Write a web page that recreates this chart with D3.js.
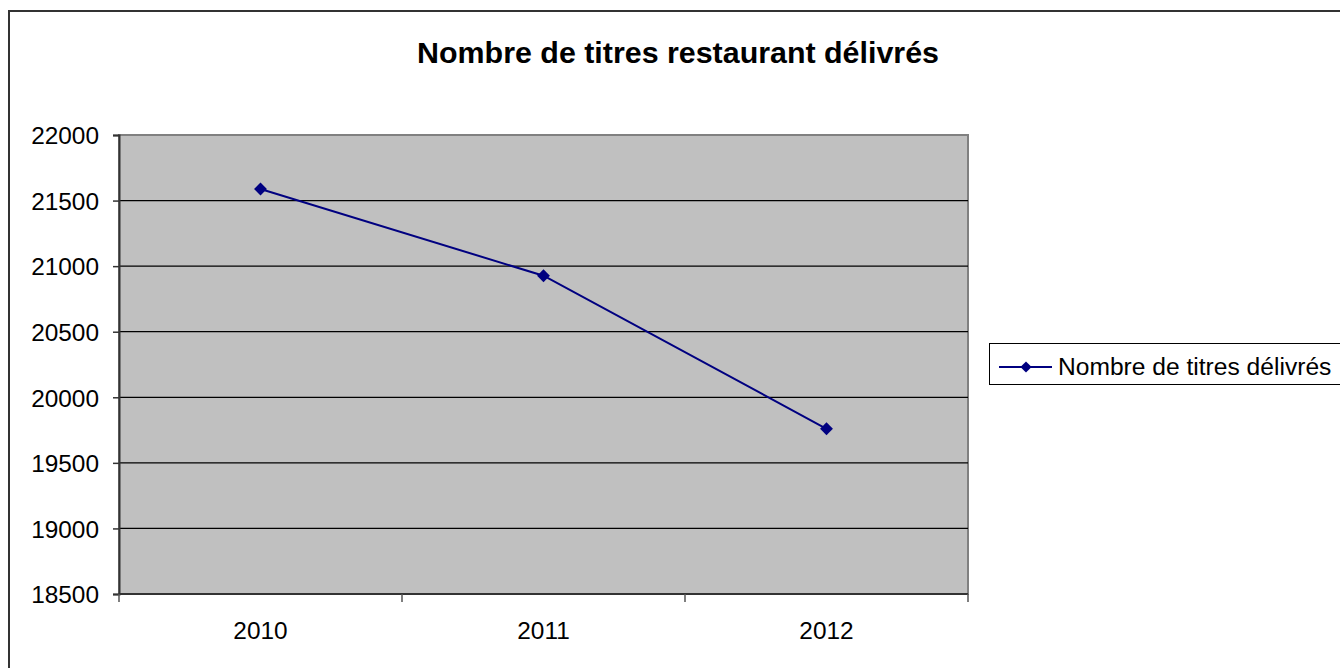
<!DOCTYPE html>
<html lang="en">
<head>
<meta charset="utf-8">
<script src="https://d3js.org/d3.v7.min.js"></script>
<style>
  body { margin: 0; background: #fff; }
  svg { display: block; font-family: "Liberation Sans", Arial, sans-serif; }
</style>
</head>
<body>
<div id="chart"></div>
<script>
// data
var years = ["2010", "2011", "2012"];
var titres = [21588, 20927, 19760];
var yTicks = [18500, 19000, 19500, 20000, 20500, 21000, 21500, 22000];
var seriesName = "Nombre de titres délivrés";
var chartTitle = "Nombre de titres restaurant délivrés";

var W = 1340, H = 668;
var plot = { left: 119, top: 135, right: 968, bottom: 594 };

var svg = d3.select("#chart").append("svg")
    .attr("width", W)
    .attr("height", H);

// outer chart border (runs off the right and bottom edges)
svg.append("rect")
    .attr("x", 9).attr("y", 11)
    .attr("width", W).attr("height", H + 20)
    .attr("fill", "#fff")
    .attr("stroke", "#333")
    .attr("stroke-width", 2);

svg.append("text")
    .attr("x", 678)
    .attr("y", 63)
    .attr("text-anchor", "middle")
    .style("font-size", "30.4px")
    .style("font-weight", "bold")
    .text(chartTitle);

var x = d3.scaleBand()
    .domain(years)
    .range([plot.left, plot.right]);

var y = d3.scaleLinear()
    .domain([18500, 22000])
    .range([plot.bottom, plot.top]);

// plot area
svg.append("rect")
    .attr("x", plot.left).attr("y", plot.top)
    .attr("width", plot.right - plot.left)
    .attr("height", plot.bottom - plot.top)
    .attr("fill", "#c0c0c0")
    .attr("stroke", "#808080")
    .attr("stroke-width", 2);

// gridlines
svg.append("g")
    .selectAll("line")
    .data(yTicks.slice(1, -1))
    .enter().append("line")
    .attr("x1", plot.left).attr("x2", plot.right)
    .attr("y1", function(d) { return y(d); })
    .attr("y2", function(d) { return y(d); })
    .attr("stroke", "#000")
    .attr("stroke-width", 1.2);

// y axis
var yAxis = svg.append("g")
    .attr("transform", "translate(" + plot.left + ",0)")
    .call(d3.axisLeft(y).tickValues(yTicks).tickSize(6).tickPadding(14).tickFormat(d3.format("d")));
yAxis.select(".domain").attr("stroke", "#333").attr("stroke-width", 2);
yAxis.selectAll(".tick line").attr("stroke", "#333").attr("stroke-width", 1.5);
yAxis.selectAll("text")
    .style("font-size", "24.4px")
    .attr("fill", "#000")
    .attr("dy", "0.36em");

// x axis, ticks sit on the band edges
var xAxis = svg.append("g")
    .attr("transform", "translate(0," + plot.bottom + ")");
xAxis.append("line")
    .attr("x1", plot.left).attr("x2", plot.right)
    .attr("stroke", "#333").attr("stroke-width", 2);
var edges = years.map(function(d) { return x(d); }).concat([plot.right]);
xAxis.selectAll(".edge")
    .data(edges)
    .enter().append("line")
    .attr("class", "edge")
    .attr("x1", function(d) { return d; })
    .attr("x2", function(d) { return d; })
    .attr("y1", 0).attr("y2", 8)
    .attr("stroke", "#555").attr("stroke-width", 1.5);
xAxis.selectAll("text")
    .data(years)
    .enter().append("text")
    .attr("x", function(d) { return x(d) + x.bandwidth() / 2; })
    .attr("y", 45)
    .attr("text-anchor", "middle")
    .style("font-size", "24.4px")
    .text(function(d) { return d; });

// series line + diamonds
var pts = years.map(function(d, i) { return [x(d) + x.bandwidth() / 2, y(titres[i])]; });
var navy = "#000080";

svg.append("path")
    .attr("d", d3.line()(pts))
    .attr("fill", "none")
    .attr("stroke", navy)
    .attr("stroke-width", 2);

var diamond = d3.symbol().type(d3.symbolDiamond2).size(105);
svg.selectAll(".pt")
    .data(pts)
    .enter().append("path")
    .attr("class", "pt")
    .attr("transform", function(d) { return "translate(" + d[0] + "," + d[1] + ")"; })
    .attr("d", diamond)
    .attr("fill", navy);

// legend
var legend = svg.append("g");
legend.append("rect")
    .attr("x", 989.5).attr("y", 343.5)
    .attr("width", 400).attr("height", 41)
    .attr("fill", "#fff")
    .attr("stroke", "#000")
    .attr("stroke-width", 1);
legend.append("line")
    .attr("x1", 999).attr("x2", 1052)
    .attr("y1", 367).attr("y2", 367)
    .attr("stroke", navy).attr("stroke-width", 2);
legend.append("path")
    .attr("transform", "translate(1026,367)")
    .attr("d", d3.symbol().type(d3.symbolDiamond2).size(80))
    .attr("fill", navy);
legend.append("text")
    .attr("x", 1058)
    .attr("y", 375)
    .style("font-size", "24.6px")
    .text(seriesName);
</script>
</body>
</html>
